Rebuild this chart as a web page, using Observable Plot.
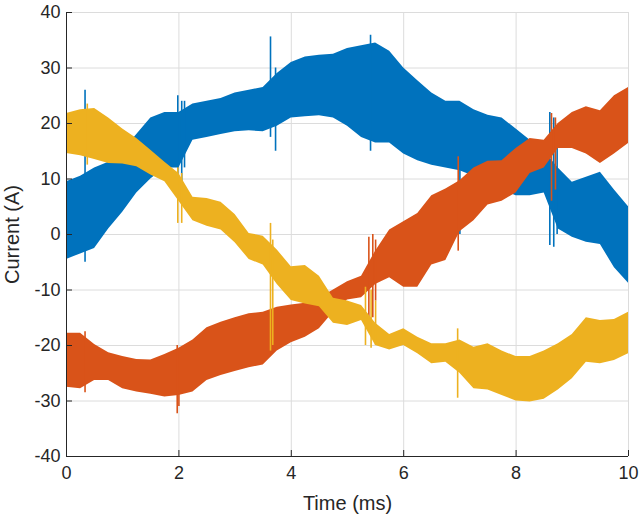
<!DOCTYPE html>
<html>
<head>
<meta charset="utf-8">
<script src="https://cdn.jsdelivr.net/npm/d3@7"></script>
<script src="https://cdn.jsdelivr.net/npm/@observablehq/plot@0.6"></script>
<style>
  html, body { margin: 0; padding: 0; background: #fff; }
  #chart svg { font-family: "Liberation Sans", Arial, Helvetica, sans-serif; }
</style>
</head>
<body>
<div id="chart"></div>
<script>
// Time samples (ms)
const time = [0, 0.25, 0.5, 0.75, 1, 1.25, 1.5, 1.75, 2, 2.25, 2.5, 2.75, 3, 3.25, 3.5, 3.75, 4, 4.25, 4.5, 4.75,
              5, 5.25, 5.5, 5.75, 6, 6.25, 6.5, 6.75, 7, 7.25, 7.5, 7.75, 8, 8.25, 8.5, 8.75, 9, 9.25, 9.5, 9.75, 10];

// Phase A (blue): upper / lower envelope of the ripple (A)
const blueHi = [9.5, 10.5, 12, 13, 15, 18, 21, 22, 22, 23.5, 24, 24.5, 25.5, 26, 26.5, 29, 31, 32, 32.3, 32.5,
                33.5, 34, 34.5, 33, 30, 27.7, 25.5, 24, 24, 22.5, 21.5, 21, 19, 17, 15, 12, 9.4, 10.3, 11.2, 8, 5];
const blueLo = [-4.5, -3.5, -2.5, 1, 4, 7.5, 10, 12, 12, 17, 17.5, 18, 18.5, 18.7, 18.5, 19.5, 21, 21.2, 21.4, 21,
                19.5, 17.5, 16.5, 16.5, 14.5, 13.3, 12.5, 12, 11.5, 10.5, 9, 8, 7, 7, 7.5, 1, -0.5, -1.4, -1.8, -6, -8.8];

// Phase B (orange)
const redHi = [-17.8, -17.8, -19.8, -21.3, -22, -22.5, -22.6, -21.6, -20.5, -19, -16.8, -15.8, -15, -14.3, -14, -13.1, -12.7, -12.4, -11.5, -10,
               -8.5, -7.5, -3, 0.8, 2.3, 3.8, 7, 8.2, 9.7, 12, 13.2, 13.3, 15.5, 17.3, 17, 20, 22, 23, 22.3, 25, 26.5];
const redLo = [-27.5, -27.8, -26.3, -26.3, -27.8, -28.4, -28.8, -29.3, -29, -28.4, -26.3, -25.4, -24.7, -24, -23.5, -21, -19.5, -18.5, -17, -14,
               -11.8, -11.4, -9, -7.8, -9.5, -9.5, -5.5, -4.7, 0.5, 2.5, 5.3, 6, 7.5, 11, 12, 15.5, 15.5, 14.5, 12.8, 14.5, 16.4];

// Phase C (yellow)
const yellowHi = [21.8, 22.5, 22.7, 21, 19, 17.3, 15.2, 13, 11, 6.7, 6.5, 5.8, 3.6, 0.2, -0.3, -2.8, -5.8, -5.6, -7.5, -11.5,
                  -12, -12.8, -16, -18, -17, -18.5, -19.7, -19.7, -19, -20.3, -19.7, -21, -22, -22, -21, -19.7, -18, -15, -15.5, -15.3, -14];
const yellowLo = [14.6, 14.2, 13.5, 12.8, 12.7, 12.2, 10.7, 9.5, 6, 2.5, 1.5, 0.8, -1.5, -4.5, -5.5, -9, -11.9, -12.5, -13, -16,
                  -16.4, -15.5, -20, -20.8, -20, -21.5, -23.3, -23, -25, -27.8, -28, -29, -30, -30.2, -29.7, -28, -26, -23, -23.3, -22.7, -21.5];

// Transient spikes: time (ms), low (A), high (A)
const blueSpikeT  = [0.33, 1.98, 2.05, 2.1, 3.63, 3.72, 5.41, 5.45, 7.0, 8.6, 8.67, 8.73];
const blueSpikeLo = [-5, 8, 9, 12, 17.5, 15, 15, 17, 0, -2, -2.3, 0];
const blueSpikeHi = [26, 25, 24, 24, 35.6, 30, 35.9, 33, 14, 22, 21, 19];

const redSpikeT  = [0.33, 1.97, 2.0, 5.38, 5.45, 5.5, 6.97, 8.63, 8.7];
const redSpikeLo = [-28.5, -32.3, -31, -17.3, -15, -12, -3, 6, 8];
const redSpikeHi = [-17.5, -20, -21, -0.5, 0, -1, 14, 21.8, 21];

const yellowSpikeT  = [0.37, 1.98, 2.05, 3.63, 3.67, 5.32, 5.42, 5.5, 6.96];
const yellowSpikeLo = [12.5, 2, 2, -21, -20, -20, -20.5, -20, -29.5];
const yellowSpikeHi = [23.5, 12, 11, 2, -1, -9.5, -10, -12, -17];

// Axis ticks
const xTicks = [0, 2, 4, 6, 8, 10];
const yTicks = [-40, -30, -20, -10, 0, 10, 20, 30, 40];

const colors = {A: "#0072BD", B: "#D95319", C: "#EDB120"};

const band = (name, lo, hi) => time.map((t, i) => ({series: name, t, lo: lo[i], hi: hi[i]}));
const spikes = (name, ts, lo, hi) => ts.map((t, i) => ({series: name, t, lo: lo[i], hi: hi[i]}));

const series = [
  {name: "A", band: band("A", blueLo, blueHi), spikes: spikes("A", blueSpikeT, blueSpikeLo, blueSpikeHi)},
  {name: "B", band: band("B", redLo, redHi), spikes: spikes("B", redSpikeT, redSpikeLo, redSpikeHi)},
  {name: "C", band: band("C", yellowLo, yellowHi), spikes: spikes("C", yellowSpikeT, yellowSpikeLo, yellowSpikeHi)}
];

const dataMarks = series.flatMap(s => [
  Plot.areaY(s.band, {x: "t", y1: "lo", y2: "hi", fill: colors[s.name], curve: "linear"}),
  Plot.ruleX(s.spikes, {x: "t", y1: "lo", y2: "hi", stroke: colors[s.name], strokeWidth: 1.6})
]);

const chart = Plot.plot({
  width: 639,
  height: 515,
  marginLeft: 66,
  marginRight: 11,
  marginTop: 12,
  marginBottom: 59,
  style: {fontSize: "18px", color: "#262626", background: "#fff"},
  x: {domain: [0, 10]},
  y: {domain: [-40, 40]},
  marks: [
    Plot.gridX(xTicks, {stroke: "#dcdcdc", strokeOpacity: 1}),
    Plot.gridY(yTicks, {stroke: "#dcdcdc", strokeOpacity: 1}),
    ...dataMarks,
    Plot.ruleX([0], {stroke: "#262626"}),
    Plot.ruleY([-40], {stroke: "#262626"}),
    Plot.axisX(xTicks, {tickSize: -6, tickPadding: 16, tickFormat: d => String(d), fontSize: 18, label: null}),
    Plot.axisX({label: "Time (ms)", labelAnchor: "center", labelArrow: "none", labelOffset: 53, ticks: [], tickSize: 0, fontSize: 20}),
    Plot.axisY(yTicks, {tickSize: -6, tickPadding: 12, tickFormat: d => String(d), fontSize: 18, label: null}),
    Plot.axisY({label: "Current (A)", labelAnchor: "center", labelArrow: "none", labelOffset: 62, ticks: [], tickSize: 0, fontSize: 20})
  ]
});

document.getElementById("chart").appendChild(chart);
</script>
</body>
</html>
